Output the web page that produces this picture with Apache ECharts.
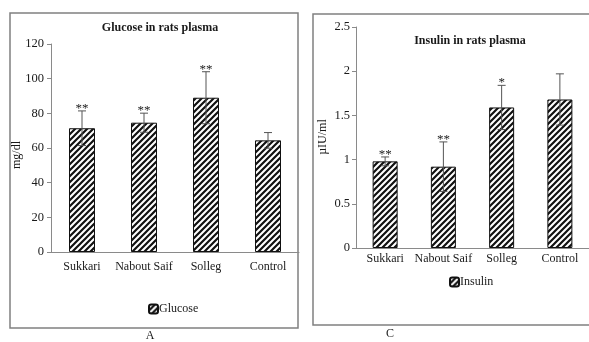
<!DOCTYPE html>
<html><head><meta charset="utf-8">
<script src="https://cdn.jsdelivr.net/npm/echarts@6/dist/echarts.min.js"></script>
<style>html,body{margin:0;padding:0;background:#fff}#c{width:589px;height:342px}</style>
</head><body><div id="c"></div>
<script>
const categories = ['Sukkari', 'Nabout Saif', 'Solleg', 'Control'];
const glucoseMean = [71.4, 74.6, 89, 64.4];
const glucoseErr = [10, 5.5, 15, 4.5];
const glucoseStars = ['**', '**', '**', ''];
const insulinMean = [0.98, 0.92, 1.59, 1.68];
const insulinErr = [0.05, 0.28, 0.25, 0.29];
const insulinStars = ['**', '**', '*', ''];
const glucoseTicks = { min: 0, max: 120, interval: 20 };
const insulinTicks = { min: 0, max: 2.5, interval: 0.5 };

const FONT = 'Liberation Serif';
const TXT = '#1a1a1a';
const AX = '#8a8a8a';

function hatch() {
  const s = 6, c = document.createElement('canvas');
  c.width = s; c.height = s;
  const g = c.getContext('2d');
  g.fillStyle = '#fff'; g.fillRect(0, 0, s, s);
  g.strokeStyle = '#111'; g.lineWidth = 2.2;
  g.beginPath();
  g.moveTo(-s, 2 * s); g.lineTo(2 * s, -s);
  g.moveTo(-2 * s, 2 * s); g.lineTo(s, -s);
  g.moveTo(0, 2 * s); g.lineTo(3 * s, -s);
  g.stroke();
  return c;
}
const pattern = { image: hatch(), repeat: 'repeat' };

function errSeries(name, means, errs, stars, idx) {
  return {
    type: 'custom', name: name + ' err', xAxisIndex: idx, yAxisIndex: idx, z: 5,
    silent: true, legendHoverLink: false,
    data: means.map((m, i) => [i, m - errs[i], m + errs[i]]),
    renderItem: function (params, api) {
      const i = api.value(0);
      const lo = api.coord([i, api.value(1)]);
      const hi = api.coord([i, api.value(2)]);
      const st = { stroke: '#555', lineWidth: 1 };
      const kids = [
        { type: 'line', shape: { x1: hi[0], y1: hi[1], x2: lo[0], y2: lo[1] }, style: st },
        { type: 'line', shape: { x1: hi[0] - 4, y1: hi[1], x2: hi[0] + 4, y2: hi[1] }, style: st },
        { type: 'line', shape: { x1: lo[0] - 4, y1: lo[1], x2: lo[0] + 4, y2: lo[1] }, style: st }
      ];
      const s = stars[params.dataIndex];
      if (s) kids.push({ type: 'text', style: { text: s, x: hi[0], y: hi[1] + 4, align: 'center', verticalAlign: 'bottom', font: '13px "' + FONT + '"', fill: TXT } });
      return { type: 'group', children: kids };
    }
  };
}

function xAx(idx, margin) {
  return {
    type: 'category', gridIndex: idx, data: categories,
    axisLine: { lineStyle: { color: AX, width: 1 } },
    axisTick: { length: 5, interval: 0, lineStyle: { color: AX } },
    axisLabel: { color: TXT, fontFamily: FONT, fontSize: 12, margin: margin, interval: 0 }
  };
}
function yAx(idx, t, margin) {
  return {
    type: 'value', gridIndex: idx, min: t.min, max: t.max, interval: t.interval,
    axisLine: { show: true, lineStyle: { color: AX, width: 1 } },
    axisTick: { show: true, length: 4, lineStyle: { color: AX } },
    splitLine: { show: false },
    axisLabel: { color: TXT, fontFamily: FONT, fontSize: 12.5, margin: margin }
  };
}

const chart = echarts.init(document.getElementById('c'), null, { renderer: 'canvas' });
chart.setOption({
  animation: false,
  backgroundColor: '#fff',
  title: [
    { text: 'Glucose in rats plasma', left: 155, top: 17, textAlign: 'center', textStyle: { fontFamily: FONT, fontSize: 12, fontWeight: 'bold', color: TXT } },
    { text: 'Insulin in rats plasma', left: 465, top: 30, textAlign: 'center', textStyle: { fontFamily: FONT, fontSize: 12, fontWeight: 'bold', color: TXT } }
  ],
  grid: [
    { left: 51, top: 44, right: 290, bottom: 90 },
    { left: 356, top: 27, right: -7, bottom: 94 }
  ],
  xAxis: [xAx(0, 9), xAx(1, 5)],
  yAxis: [yAx(0, glucoseTicks, 7), yAx(1, insulinTicks, 6)],
  legend: [
    { data: ['Glucose'], left: 143, top: 298, itemWidth: 9, itemHeight: 9, itemGap: 2, textStyle: { fontFamily: FONT, fontSize: 12, color: TXT, padding: [0, 0, 0, -4] }, selectedMode: false },
    { data: ['Insulin'], left: 444, top: 271, itemWidth: 9, itemHeight: 9, itemGap: 2, textStyle: { fontFamily: FONT, fontSize: 12, color: TXT, padding: [0, 0, 0, -4] }, selectedMode: false }
  ],
  series: [
    { type: 'bar', name: 'Glucose', xAxisIndex: 0, yAxisIndex: 0, data: glucoseMean, barWidth: 26,
      itemStyle: { color: pattern, borderColor: '#111', borderWidth: 1 } },
    errSeries('Glucose', glucoseMean, glucoseErr, glucoseStars, 0),
    { type: 'bar', name: 'Insulin', xAxisIndex: 1, yAxisIndex: 1, data: insulinMean, barWidth: 25,
      itemStyle: { color: pattern, borderColor: '#111', borderWidth: 1 } },
    errSeries('Insulin', insulinMean, insulinErr, insulinStars, 1)
  ],
  graphic: [
    { type: 'rect', shape: { x: 10, y: 13, width: 288, height: 315 }, style: { fill: 'none', stroke: '#808080', lineWidth: 1.5 }, z: -1 },
    { type: 'rect', shape: { x: 313, y: 14, width: 290, height: 311 }, style: { fill: 'none', stroke: '#808080', lineWidth: 1.5 }, z: -1 },
    { type: 'text', x: 17, y: 155, rotation: Math.PI / 2, style: { text: 'mg/dl', font: '12px "' + FONT + '"', fill: TXT, align: 'center', verticalAlign: 'middle' } },
    { type: 'text', x: 323, y: 137, rotation: Math.PI / 2, style: { text: 'µIU/ml', font: '12px "' + FONT + '"', fill: TXT, align: 'center', verticalAlign: 'middle' } },
    { type: 'text', x: 150, y: 336, style: { text: 'A', font: '12px "' + FONT + '"', fill: TXT, align: 'center', verticalAlign: 'middle' } },
    { type: 'text', x: 390, y: 334, style: { text: 'C', font: '12px "' + FONT + '"', fill: TXT, align: 'center', verticalAlign: 'middle' } }
  ]
});
</script></body></html>
